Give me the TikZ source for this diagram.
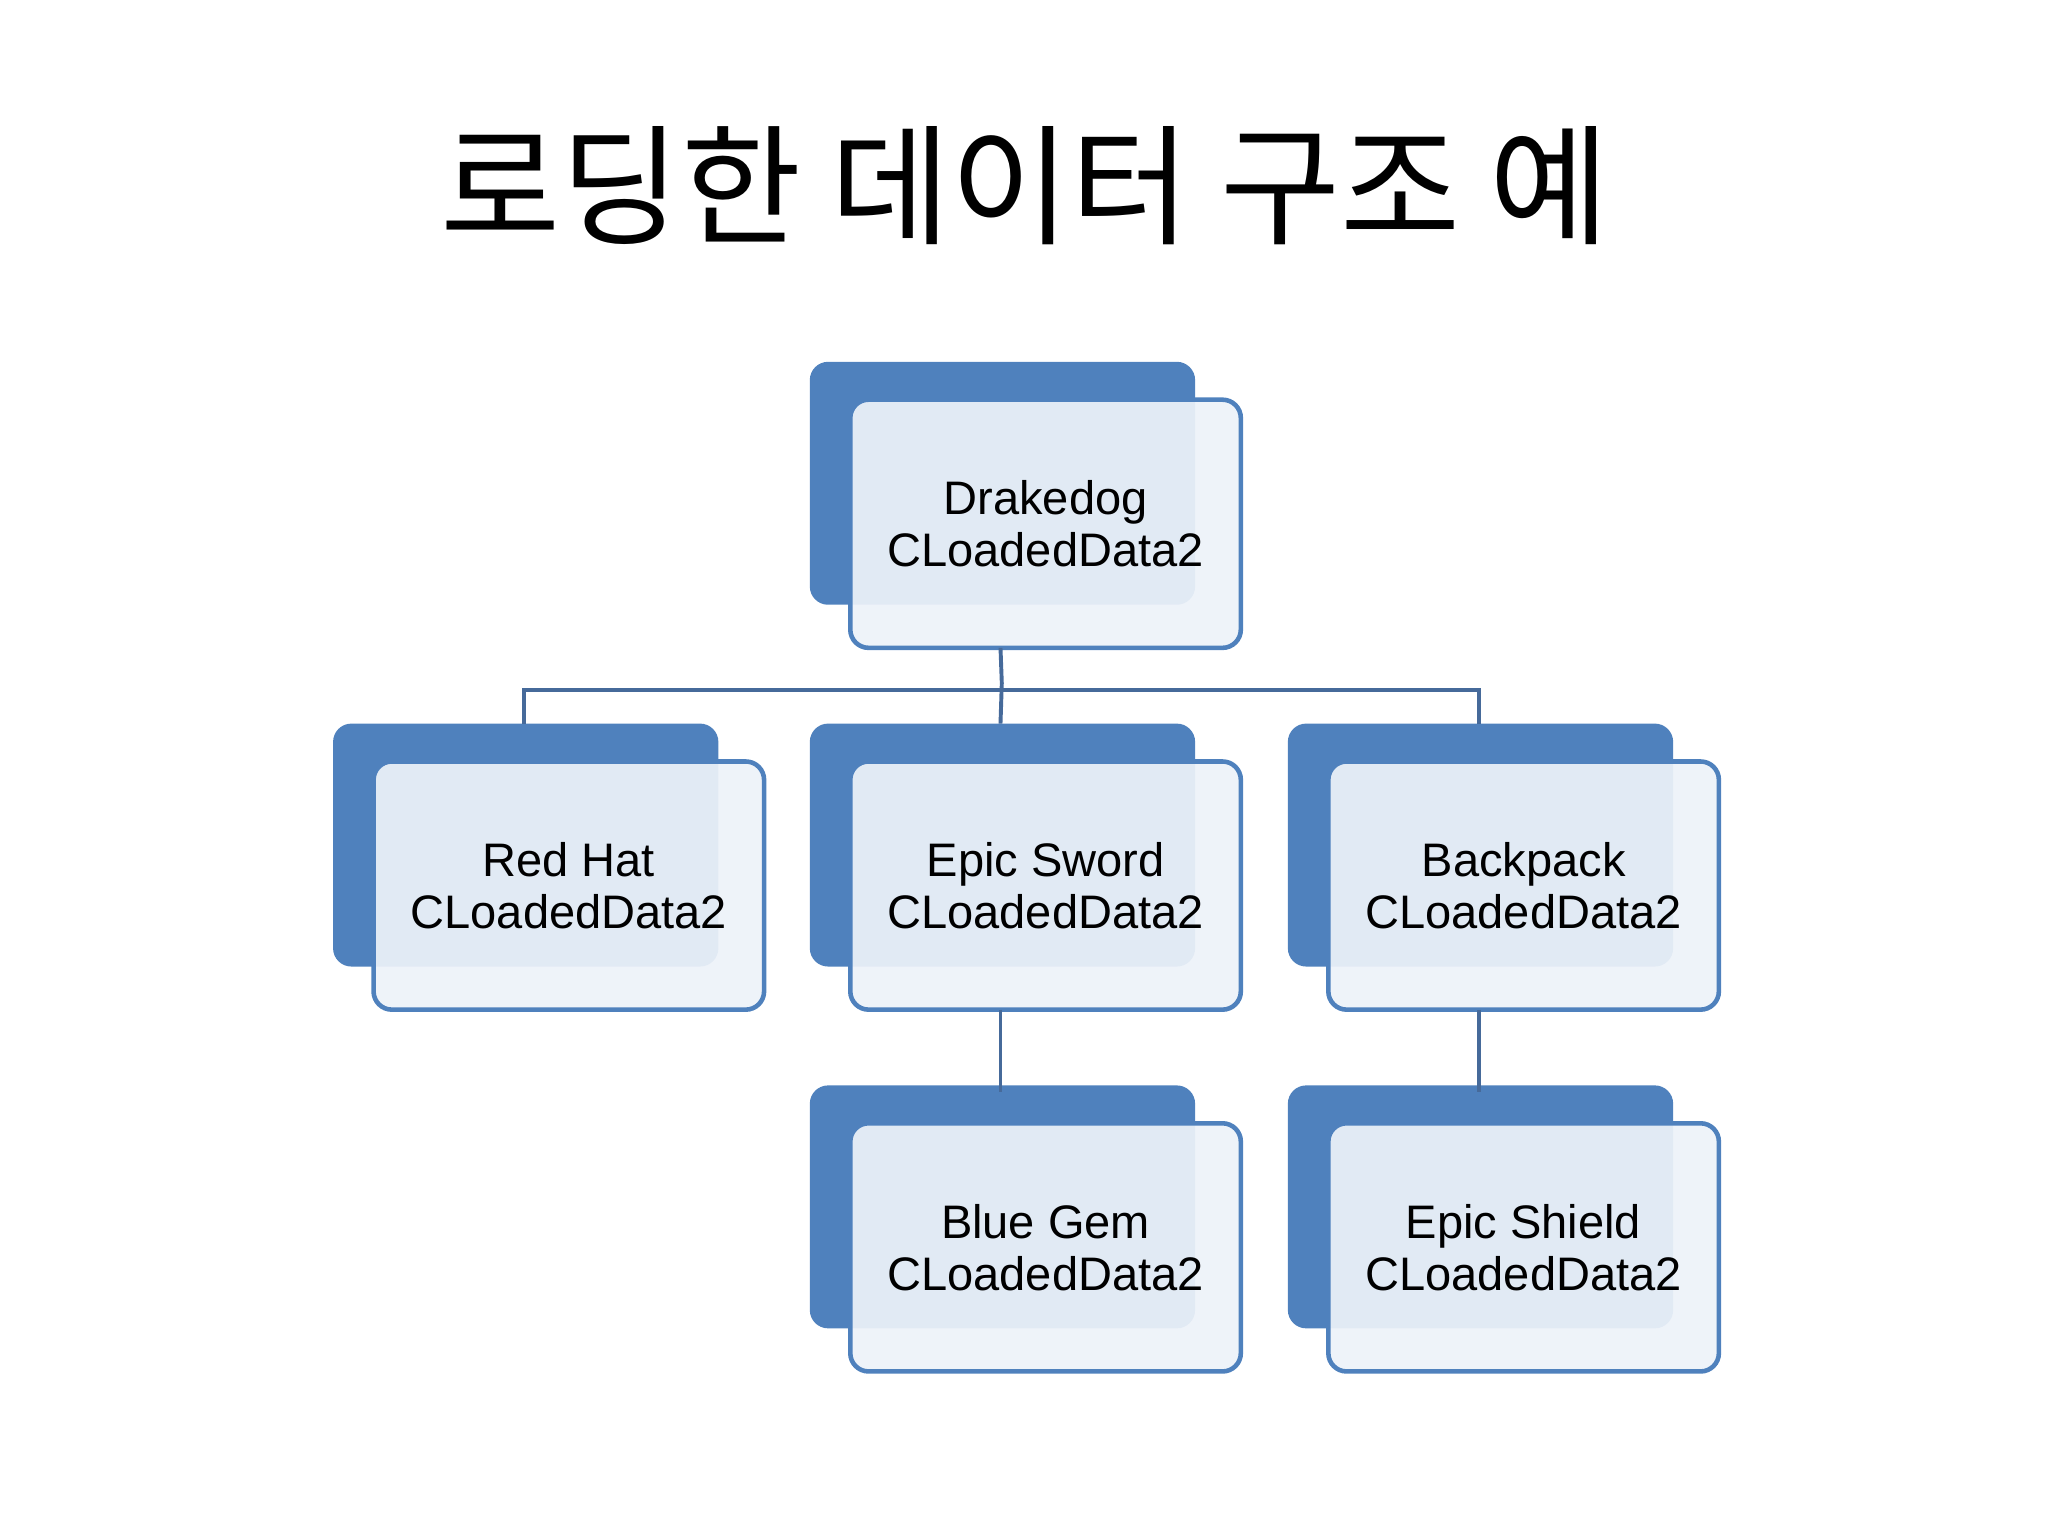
\documentclass[tikz,border=0pt]{standalone}
\usepackage{fontspec}
\setmainfont{Liberation Sans}
\newfontfamily\cjk{Noto Sans CJK KR}
\definecolor{bblue}{HTML}{4F81BD}
\definecolor{lfill}{HTML}{EDF2F9}
\definecolor{lnk}{HTML}{466A9A}
\begin{document}
\begin{tikzpicture}[x=1pt,y=-1pt,
  back/.style={fill=bblue,rounded corners=14pt},
  front/.style={draw=bblue,line width=3.5pt,fill=lfill,fill opacity=0.93,rounded corners=14pt},
  lbl/.style={font=\fontsize{36}{40}\selectfont,align=center,text=black},
  link/.style={draw=lnk,line width=3pt}]
\useasboundingbox (0,0) rectangle (1568,1176);
\node[font=\cjk\fontsize{100}{110}\selectfont] (title) at (785,142) {로딩한 데이터 구조 예};
\newcommand{\mybox}[4]{% name, x, y(back top), text
  \fill[back] (#2,#3) rectangle ++(295,186);
  \draw[front] (#2+31,#3+29) rectangle ++(299,190);
  \node[lbl] (#1) at (#2+180.5,#3+124) {#4};
  \coordinate (#1t) at (#2+146,#3);
  \coordinate (#1b) at (#2+146,#3+219);
}
\mybox{dd}{620}{277}{Drakedog\\CLoadedData2}
\mybox{rh}{255}{554}{Red Hat\\CLoadedData2}
\mybox{es}{620}{554}{Epic Sword\\CLoadedData2}
\mybox{bp}{986}{554}{Backpack\\CLoadedData2}
\mybox{bg}{620}{831}{Blue Gem\\CLoadedData2}
\mybox{esh}{986}{831}{Epic Shield\\CLoadedData2}
\coordinate (j) at (767,523);
\draw[link] (ddb) -- (j);
\draw[link] (rht) -- ++(0,-26) -| (bpt);
\draw[link] (j) -- (est);
\draw[link] (esb) -- ([yshift=-5pt]bgt);
\draw[link] (bpb) -- ([yshift=-5pt]esht);
\end{tikzpicture}
\end{document}
